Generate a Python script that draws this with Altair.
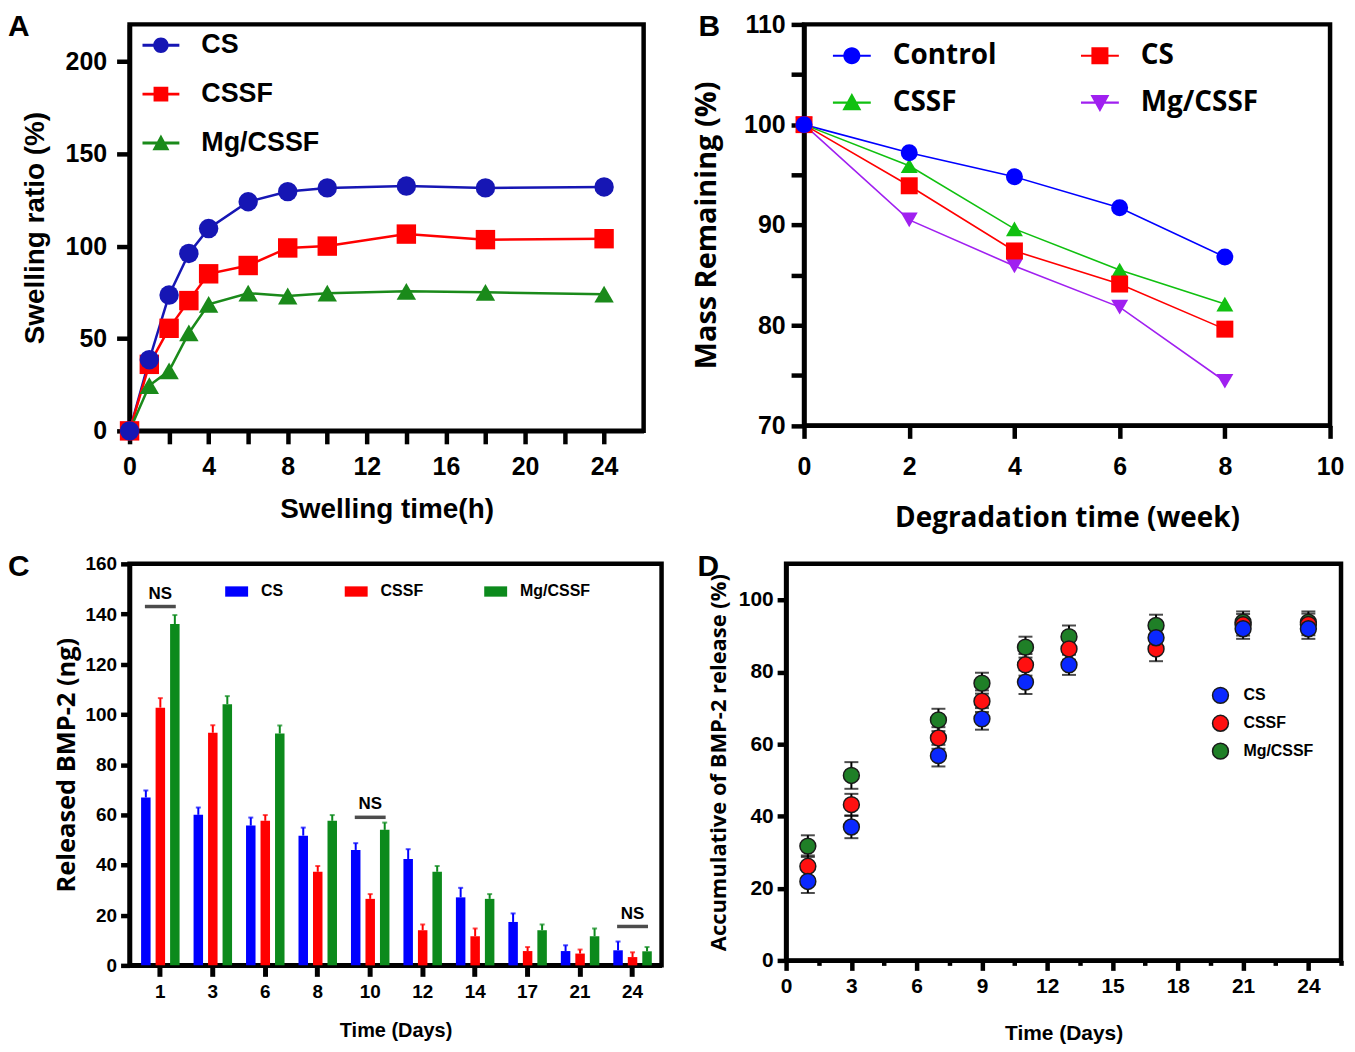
import altair as alt
import pandas as pd

# ---------------- data ----------------
# Panel A: swelling ratio (%) vs swelling time (h)
swell_time = [0, 1, 2, 3, 4, 6, 8, 10, 14, 18, 24]
swell_cs = [0, 38.5, 73.5, 96.0, 109.5, 124.0, 129.5, 131.5, 132.5, 131.5, 132.0]
swell_cssf = [0, 36.0, 55.5, 70.5, 85.0, 89.5, 99.0, 100.0, 106.5, 103.5, 104.0]
swell_mg = [0, 24.5, 32.5, 53.0, 68.5, 74.5, 73.0, 74.5, 75.5, 75.0, 74.0]
swell_series = ["CS", "CSSF", "Mg/CSSF"]

# Panel B: mass remaining (%) vs degradation time (week)
deg_week = [0, 2, 4, 6, 8]
deg_control = [100, 97.2, 94.8, 91.7, 86.8]
deg_cs = [100, 93.9, 87.4, 84.1, 79.6]
deg_cssf = [100, 95.9, 89.6, 85.5, 82.1]
deg_mg = [100, 90.5, 85.9, 81.8, 74.4]
deg_series = ["Control", "CS", "CSSF", "Mg/CSSF"]

# Panel C: released BMP-2 (ng) per day
rel_days = [1, 3, 6, 8, 10, 12, 14, 17, 21, 24]
rel_cs = [66.9, 60.0, 55.7, 51.7, 46.0, 42.4, 27.1, 17.3, 5.7, 6.0]
rel_cs_err = [2.8, 2.9, 3.2, 3.2, 2.7, 3.9, 3.8, 3.4, 2.3, 3.5]
rel_cssf = [102.7, 92.7, 57.6, 37.3, 26.5, 14.0, 11.6, 5.7, 4.7, 3.3]
rel_cssf_err = [3.8, 3.0, 2.3, 2.3, 1.9, 2.3, 3.1, 1.6, 1.6, 1.9]
rel_mg = [136.0, 104.1, 92.4, 57.6, 54.0, 37.3, 26.5, 14.0, 11.6, 5.6]
rel_mg_err = [3.6, 3.2, 3.2, 2.3, 2.9, 2.3, 1.9, 2.3, 3.1, 1.7]
rel_series = ["CS", "CSSF", "Mg/CSSF"]
ns_days = [1, 10, 24]
ns_level = [143.0, 59.0, 15.5]

# Panel D: accumulative BMP-2 release (%)
cum_days = [1, 3, 7, 9, 11, 13, 17, 21, 24]
cum_cs = [21.9, 37.0, 56.8, 67.0, 77.2, 82.0, 89.5, 92.0, 92.0]
cum_cs_err = [3.2, 3.1, 3.0, 3.0, 3.3, 2.8, 3.0, 2.8, 2.8]
cum_cssf = [26.1, 43.2, 61.7, 71.9, 82.0, 86.4, 86.4, 93.1, 93.2]
cum_cssf_err = [3.0, 3.0, 3.0, 3.0, 3.0, 3.0, 3.4, 3.0, 3.0]
cum_mg = [31.7, 51.3, 66.7, 76.9, 86.9, 89.8, 92.9, 93.8, 93.8]
cum_mg_err = [3.0, 3.7, 3.1, 2.9, 2.9, 3.1, 3.0, 3.0, 3.0]
cum_series = ["CS", "CSSF", "Mg/CSSF"]

# ---------------- tables ----------------
def long_table(xname, xs, series, values, errs=None):
    rows = []
    for i, s in enumerate(series):
        for j, x in enumerate(xs):
            r = {xname: x, "series": s, "value": values[i][j]}
            if errs is not None:
                r["lo"] = values[i][j] - errs[i][j]
                r["hi"] = values[i][j] + errs[i][j]
            rows.append(r)
    return pd.DataFrame(rows)

dfA = long_table("time", swell_time, swell_series, [swell_cs, swell_cssf, swell_mg])
dfA_pts = long_table("time", swell_time, swell_series[::-1], [swell_mg, swell_cssf, swell_cs])
dfB = long_table("week", deg_week, deg_series, [deg_control, deg_cs, deg_cssf, deg_mg])
dfB_pts = long_table("week", deg_week, deg_series[::-1], [deg_mg, deg_cssf, deg_cs, deg_control])
dfC = long_table("day", rel_days, rel_series, [rel_cs, rel_cssf, rel_mg],
                 [rel_cs_err, rel_cssf_err, rel_mg_err])
dfNS = pd.DataFrame({"day": ns_days, "level": ns_level, "label": ["NS"] * len(ns_days)})
dfD = long_table("day", cum_days, cum_series[::-1], [cum_mg, cum_cssf, cum_cs],
                 [cum_mg_err, cum_cssf_err, cum_cs_err])

LAB = "Liberation Sans"
OPEN = "Open Sans"

def axis(title, values=None, lsize=25, tsize=28, tfont=LAB, tick=13, lpad=5, tpad=14, **kw):
    d = dict(title=title, labelFont=LAB, labelFontSize=lsize, labelFontWeight="bold",
             labelColor="black", titleFont=tfont, titleFontSize=tsize, titleFontWeight="bold",
             titleColor="black", domainColor="black", domainWidth=4.5, tickColor="black",
             tickWidth=4.5, tickSize=tick, labelPadding=lpad, titlePadding=tpad, grid=False,
             labelFlush=False, labelOverlap=False)
    if values is not None:
        d["values"] = values
    d.update(kw)
    return alt.Axis(**d)

def letter(ch, dx, dy):
    return alt.Chart(pd.DataFrame({"t": [ch]})).mark_text(
        align="left", baseline="top", font=LAB, fontSize=30, fontWeight="bold", color="black"
    ).encode(text="t:N", x=alt.value(dx), y=alt.value(dy))

# ---------------- Panel A ----------------
colA = ["#1616b4", "#ff0000", "#1a8a1a"]
xA = alt.X("time:Q", scale=alt.Scale(domain=[0, 26], nice=False),
           axis=axis("Swelling time(h)", list(range(0, 25, 2)),
                     labelExpr="datum.value % 4 === 0 ? datum.label : ''", lpad=11, tpad=16))
yA = alt.Y("value:Q", scale=alt.Scale(domain=[0, 220], nice=False),
           axis=axis("Swelling ratio (%)", [0, 50, 100, 150, 200], lpad=10, tpad=16))
lineA = alt.Chart(dfA).mark_line(strokeWidth=2.5).encode(
    x=xA, y=yA, color=alt.Color("series:N", scale=alt.Scale(domain=swell_series, range=colA), legend=None))
ptsA = alt.Chart(dfA_pts).mark_point(filled=True, opacity=1, size=380).encode(
    x=xA, y=yA,
    color=alt.Color("series:N", scale=alt.Scale(domain=swell_series, range=colA), legend=None),
    shape=alt.Shape("series:N", scale=alt.Scale(domain=swell_series, range=["circle", "square", "triangle-up"]), legend=None))
pathsA = [
    "M-1,-0.08H1V0.08H-1Z M-0.42,0A0.42,0.42,0,1,1,0.42,0A0.42,0.42,0,1,1,-0.42,0Z",
    "M-1,-0.08H1V0.08H-1Z M-0.4,-0.4H0.4V0.4H-0.4Z",
    "M-1,-0.08H1V0.08H-1Z M0,-0.46L0.46,0.4H-0.46Z",
]
legA = dict(orient="none", legendX=13, legendY=2.5, direction="vertical", title=None,
            symbolSize=1369, symbolStrokeWidth=0, symbolOpacity=1, labelFont=LAB, labelFontSize=27,
            labelFontWeight="bold", labelColor="black", labelOffset=22, rowPadding=17,
            padding=0, labelLimit=400)
keyA = alt.Chart(dfA).mark_point(filled=True, opacity=0).encode(
    x=xA, y=yA,
    color=alt.Color("series:N", scale=alt.Scale(domain=swell_series, range=colA), legend=alt.Legend(**legA)),
    shape=alt.Shape("series:N", scale=alt.Scale(domain=swell_series, range=pathsA), legend=alt.Legend(**legA)))
panelA = alt.layer(lineA, ptsA, keyA, letter("A", -122, -12)).resolve_scale(
    color="independent", shape="independent").properties(width=516, height=408)

# ---------------- Panel B ----------------
colB = ["#0000ff", "#ff0000", "#10c010", "#a020f0"]
xB = alt.X("week:Q", scale=alt.Scale(domain=[0, 10], nice=False),
           axis=axis("Degradation time (week)", [0, 2, 4, 6, 8, 10], tfont=OPEN, tsize=28,
                     lpad=16, tpad=25))
yB = alt.Y("value:Q", scale=alt.Scale(domain=[70, 110], nice=False),
           axis=axis("Mass Remaining (%)", list(range(70, 111, 5)), tfont=OPEN, tsize=29,
                     labelExpr="datum.value % 10 === 0 ? datum.label : ''", lpad=6, tpad=22))
lineB = alt.Chart(dfB).mark_line(strokeWidth=1.6).encode(
    x=xB, y=yB, color=alt.Color("series:N", scale=alt.Scale(domain=deg_series, range=colB), legend=None))
ptsB = alt.Chart(dfB_pts).mark_point(filled=True, opacity=1, size=290).encode(
    x=xB, y=yB,
    color=alt.Color("series:N", scale=alt.Scale(domain=deg_series, range=colB), legend=None),
    shape=alt.Shape("series:N", scale=alt.Scale(domain=deg_series,
                    range=["circle", "square", "triangle-up", "triangle-down"]), legend=None))
# legend fills column by column: order entries so rows read Control, CS / CSSF, Mg/CSSF
key_order = ["Control", "CSSF", "CS", "Mg/CSSF"]
key_colB = ["#0000ff", "#10c010", "#ff0000", "#a020f0"]
pathsB = [
    "M-1,-0.055H1V0.055H-1Z M-0.45,0A0.45,0.45,0,1,1,0.45,0A0.45,0.45,0,1,1,-0.45,0Z",
    "M-1,-0.055H1V0.055H-1Z M0,-0.5L0.5,0.4H-0.5Z",
    "M-1,-0.055H1V0.055H-1Z M-0.45,-0.45H0.45V0.45H-0.45Z",
    "M-1,-0.055H1V0.055H-1Z M0,0.5L-0.5,-0.4H0.5Z",
]
legB = dict(orient="none", legendX=29, legendY=12.5, direction="vertical", columns=2, title=None,
            symbolSize=1444, symbolStrokeWidth=0, symbolOpacity=1, labelFont=OPEN, labelFontSize=28,
            labelFontWeight="bold", labelColor="black", labelOffset=22, rowPadding=14,
            columnPadding=84, padding=0, labelLimit=400)
keyB = alt.Chart(dfB).mark_point(filled=True, opacity=0).encode(
    x=xB, y=yB,
    color=alt.Color("series:N", scale=alt.Scale(domain=key_order, range=key_colB), legend=alt.Legend(**legB)),
    shape=alt.Shape("series:N", scale=alt.Scale(domain=key_order, range=pathsB), legend=alt.Legend(**legB)))
panelB = alt.layer(lineB, ptsB, keyB, letter("B", -106, -12)).resolve_scale(
    color="independent", shape="independent").properties(width=528, height=402.5)

# ---------------- Panel C ----------------
colC = ["#0000ff", "#ff0000", "#0c8a1c"]
xC = alt.X("day:O", scale=alt.Scale(paddingInner=0.2, paddingOuter=0.17, align=0.55),
           axis=axis("Time (Days)", lsize=19, tsize=20, tick=11, lpad=6, tpad=19, labelAngle=0, tickWidth=5))
offC = alt.XOffset("series:N", scale=alt.Scale(domain=rel_series, paddingInner=0.345, paddingOuter=0.12))
yC = alt.Y("value:Q", scale=alt.Scale(domain=[0, 160], nice=False),
           axis=axis("Released BMP-2 (ng)", list(range(0, 161, 20)), lsize=19, tsize=25.5, tfont=OPEN,
                     tick=9, lpad=4, tpad=6))
scC = alt.Scale(domain=rel_series, range=colC)
legC = alt.Legend(orient="none", legendX=96, legendY=16, direction="horizontal", title=None,
                  symbolType="M-1,-0.45H1V0.45H-1Z", symbolSize=529, symbolStrokeWidth=0,
                  labelFont=LAB, labelFontSize=16, labelFontWeight="bold", labelColor="black",
                  labelOffset=13, columnPadding=61, padding=0)
barsC = alt.Chart(dfC).mark_bar().encode(
    x=xC, xOffset=offC, y=yC, color=alt.Color("series:N", scale=scC, legend=legC))
errC = alt.Chart(dfC).mark_rule(strokeWidth=2).encode(
    x=xC, xOffset=offC, y=alt.Y("value:Q"), y2="hi:Q", color=alt.Color("series:N", scale=scC, legend=None))
capC = alt.Chart(dfC).mark_tick(orient="horizontal", size=5, thickness=2).encode(
    x=xC, xOffset=offC, y=alt.Y("hi:Q"), color=alt.Color("series:N", scale=scC, legend=None))
nsLine = alt.Chart(dfNS).mark_tick(orient="horizontal", size=31, thickness=3.5, color="black").encode(
    x=xC, y=alt.Y("level:Q"))
nsText = alt.Chart(dfNS).mark_text(baseline="bottom", dy=-4, font=LAB, fontSize=17,
                                   fontWeight="bold", color="black").encode(
    x=xC, y=alt.Y("level:Q"), text="label:N")
panelC = alt.layer(barsC, errC, capC, nsLine, nsText, letter("C", -122, -12)).properties(width=534, height=403)

# ---------------- Panel D ----------------
colD = ["#0a28ff", "#ff1010", "#1f7f27"]
xD = alt.X("day:Q", scale=alt.Scale(domain=[0, 25.5], nice=False),
           axis=axis("Time (Days)", [i * 1.5 for i in range(18)], lsize=21, tsize=21,
                     labelExpr="datum.value % 3 === 0 ? datum.label : ''", lpad=5, tpad=26,
                     tickSize={"condition": {"test": "datum.value % 3 === 0", "value": 10}, "value": 5}))
yD = alt.Y("value:Q", scale=alt.Scale(domain=[0, 110], nice=False),
           axis=axis("Accumulative of BMP-2 release (%)", list(range(0, 101, 20)), lsize=21, tsize=22,
                     tfont=OPEN, tick=9, lpad=4, tpad=8))
scD = alt.Scale(domain=cum_series, range=colD)
legD = alt.Legend(orient="none", legendX=427, legendY=123, direction="vertical", title=None,
                  symbolType="circle", symbolSize=254, symbolStrokeColor="#1a1a1a", symbolStrokeWidth=1.5,
                  labelFont=LAB, labelFontSize=16, labelFontWeight="bold", labelColor="black",
                  labelOffset=14, rowPadding=6, padding=0)
errD = alt.Chart(dfD).mark_rule(color="black", strokeWidth=2).encode(x=xD, y=alt.Y("lo:Q"), y2="hi:Q")
capLo = alt.Chart(dfD).mark_tick(orient="horizontal", size=14, thickness=2, color="black").encode(
    x=xD, y=alt.Y("lo:Q"))
capHi = alt.Chart(dfD).mark_tick(orient="horizontal", size=14, thickness=2, color="black").encode(
    x=xD, y=alt.Y("hi:Q"))
ptsD = alt.Chart(dfD).mark_point(filled=True, opacity=1, size=254, stroke="#1a1a1a", strokeWidth=1.5).encode(
    x=xD, y=yD, color=alt.Color("series:N", scale=scD, legend=legD))
panelD = alt.layer(errD, capLo, capHi, ptsD, letter("D", -89, -12)).properties(width=557, height=398)

# ---------------- assemble ----------------
row1 = alt.hconcat(panelA, panelB, spacing=44).resolve_scale(color="independent", shape="independent")
row2 = alt.hconcat(panelC, panelD, spacing=30).resolve_scale(color="independent", shape="independent")
chart = alt.vconcat(row1, row2, spacing=14.5).resolve_scale(
    color="independent", shape="independent"
).properties(
    padding={"top": -0.5, "left": -3, "right": 0, "bottom": 0},
    background="white",
).configure_view(stroke="black", strokeWidth=4.5)

chart.save("out.html", embed_options={"renderer": "svg", "actions": False})
